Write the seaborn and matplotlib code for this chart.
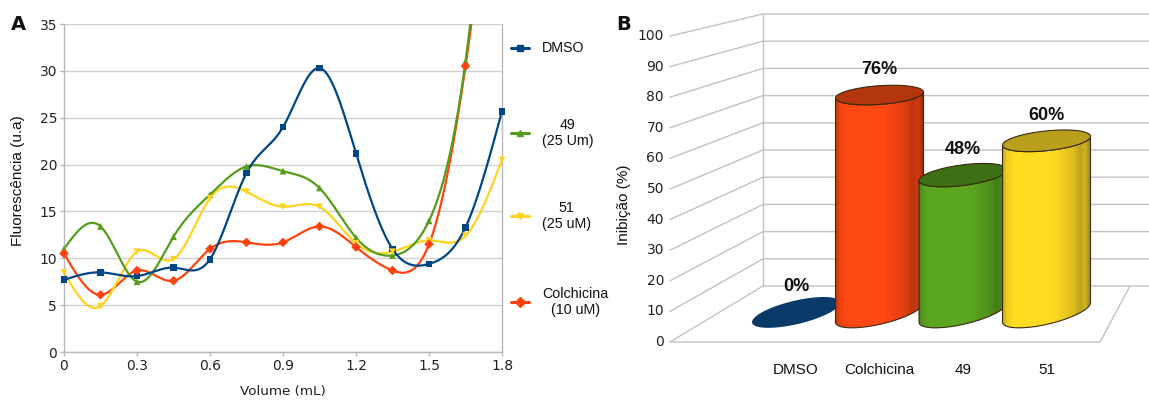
import numpy as np
import pandas as pd
import matplotlib
matplotlib.use("Agg")
import matplotlib.pyplot as plt
import seaborn as sns
from matplotlib.lines import Line2D
from matplotlib.patches import Polygon
from matplotlib.colors import to_rgb

# ---------------- data ----------------
volume_ml = [0, 0.15, 0.3, 0.45, 0.6, 0.75, 0.9, 1.05, 1.2, 1.35, 1.5, 1.65, 1.8]
dmso = [7.7, 8.5, 8.1, 9.0, 9.9, 19.1, 24.0, 30.3, 21.2, 11.0, 9.4, 13.3, 25.7]
cpd49 = [11.0, 13.4, 7.5, 12.3, 16.8, 19.8, 19.3, 17.5, 12.2, 10.3, 14.0, 31.0, 70.0]
cpd51 = [8.5, 4.9, 10.7, 9.9, 16.4, 17.1, 15.5, 15.5, 11.6, 10.7, 11.9, 12.4, 20.5]
colchicina = [10.5, 6.1, 8.7, 7.6, 11.0, 11.7, 11.7, 13.4, 11.2, 8.7, 11.5, 30.5, 62.0]

series_names = ["DMSO", "49\n(25 Um)", "51\n(25 uM)", "Colchicina\n(10 uM)"]
series_values = [dmso, cpd49, cpd51, colchicina]
series_colors = ["#004586", "#579d1c", "#ffd320", "#ff420e"]
series_markers = ["s", "^", "v", "D"]

groups = ["DMSO", "Colchicina", "49", "51"]
inhibition = [0, 76, 48, 60]
bar_colors = ["#0a3a68", "#ff4812", "#5ca720", "#ffdc22"]
top_colors = ["#0a3a68", "#b3360c", "#3d7014", "#b89f1c"]

W, H = 1149, 401
sns.set_theme(style="white")
plt.rcParams["font.family"] = ["DejaVu Sans"]

fig = plt.figure(figsize=(W / 100, H / 100), dpi=100)
fig.patch.set_facecolor("white")


def fx(px):
    return px / W


def fy(py):
    return 1 - py / H


def natural_spline(x, y, n=500):
    """Natural cubic spline through the measured points (smoothed line)."""
    x = np.asarray(x, float)
    y = np.asarray(y, float)
    h = np.diff(x)
    N = len(x)
    A = np.zeros((N, N))
    r = np.zeros(N)
    A[0, 0] = A[-1, -1] = 1
    for i in range(1, N - 1):
        A[i, i - 1] = h[i - 1]
        A[i, i] = 2 * (h[i - 1] + h[i])
        A[i, i + 1] = h[i]
        r[i] = 3 * ((y[i + 1] - y[i]) / h[i] - (y[i] - y[i - 1]) / h[i - 1])
    c = np.linalg.solve(A, r)
    b = (y[1:] - y[:-1]) / h - h * (2 * c[:-1] + c[1:]) / 3
    d = (c[1:] - c[:-1]) / (3 * h)
    xs = np.linspace(x[0], x[-1], n)
    idx = np.clip(np.searchsorted(x, xs, side="right") - 1, 0, N - 2)
    dx = xs - x[idx]
    ys = y[idx] + b[idx] * dx + c[idx] * dx ** 2 + d[idx] * dx ** 3
    return xs, ys


# ---------------- panel A: fluorescence curves ----------------
axA = fig.add_axes([fx(64), fy(352), fx(502 - 64), (352 - 24) / H])

curves, points = [], []
for name, vals in zip(series_names, series_values):
    xs, ys = natural_spline(volume_ml, vals)
    curves.append(pd.DataFrame({"volume": xs, "fluor": ys, "serie": name}))
    points.append(pd.DataFrame({"volume": volume_ml, "fluor": vals, "serie": name}))
curves = pd.concat(curves, ignore_index=True)
points = pd.concat(points, ignore_index=True)
points = points[points["fluor"] <= 35]

palette = dict(zip(series_names, series_colors))
markers = dict(zip(series_names, series_markers))
draw_order = series_names[::-1]

sns.lineplot(data=curves, x="volume", y="fluor", hue="serie", hue_order=draw_order,
             palette=palette, estimator=None, sort=False, legend=False,
             lw=1.6, ax=axA, zorder=2)
sns.scatterplot(data=points, x="volume", y="fluor", hue="serie", hue_order=draw_order,
                style="serie", style_order=draw_order, markers=markers,
                palette=palette, s=24, linewidth=0, legend=False, ax=axA,
                clip_on=False, zorder=3)

axA.set_xlim(0, 1.8)
axA.set_ylim(0, 35)
axA.set_xticks([0, 0.3, 0.6, 0.9, 1.2, 1.5, 1.8])
axA.set_xticklabels(["0", "0.3", "0.6", "0.9", "1.2", "1.5", "1.8"])
axA.set_yticks(range(0, 36, 5))
axA.yaxis.grid(True, color="#d0d0d0", lw=1)
axA.xaxis.grid(False)
axA.set_axisbelow(True)
for side in ["left", "bottom", "right"]:
    axA.spines[side].set_color("#b8b8b8")
    axA.spines[side].set_linewidth(1)
axA.spines["top"].set_visible(False)
axA.set_xlabel("")
axA.set_ylabel("")
axA.tick_params(axis="both", length=3, width=1, color="#b8b8b8", labelsize=10,
                labelcolor="#222222", left=True, bottom=True, pad=2)

fig.text(fx(18), fy(181), "Fluorescência (u.a)", rotation=90, ha="center", va="center",
         family="Liberation Sans", fontsize=11, color="#111111")
fig.text(fx(283), fy(392), "Volume (mL)", ha="center", va="center",
         fontsize=9.7, color="#222222")
fig.text(fx(11), fy(25), "A", ha="left", va="center", fontsize=14,
         fontweight="bold", color="#111111")

# legend drawn to the right of the plot
legend_rows = [48, 133, 216, 302]
for name, color, marker, ly in zip(series_names, series_colors, series_markers, legend_rows):
    fig.add_artist(Line2D([fx(511), fx(529)], [fy(ly), fy(ly)], color=color, lw=2.2))
    fig.add_artist(Line2D([fx(520)], [fy(ly)], marker=marker, color=color, ms=5, lw=0))
    fig.text(fx(542), fy(ly), name, ha="left", va="center", multialignment="center",
             family="Liberation Sans", fontsize=10.3, color="#111111", linespacing=1.15)

# ---------------- panel B: 3D-style cylinder bars ----------------
BAR_X0, BAR_DX = 796.0, 83.5     # horizontal position of category 0 and spacing
BAR_Y0, BAR_DY = 312.4, 2.86     # floor level and size of one percent at bar depth

axB = fig.add_axes([fx(630), 0, fx(W - 630), 1])
axB.axis("off")


def px_to_data(xp, yp):
    return ((np.asarray(xp, float) - BAR_X0) / BAR_DX,
            (BAR_Y0 - np.asarray(yp, float)) / BAR_DY)


# perspective frame: left wall, back wall and floor
FRONT_X, BACK_X, FLOOR_FRONT_RIGHT, FLOOR_BACK_RIGHT = 670, 763, 1100, 1130


def front_y(v):
    return 342 - 3.06 * v


def back_y(v):
    return 286 - 2.72 * v


grid_kw = dict(color="#c2c2c2", lw=1, zorder=0.5)
for v in range(0, 101, 10):
    gx, gy = px_to_data([FRONT_X, BACK_X, W], [front_y(v), back_y(v), back_y(v)])
    axB.plot(gx, gy, **grid_kw)
    tx, ty = px_to_data(664, front_y(v))
    axB.text(tx, ty, f"{v}", ha="right", va="center", fontsize=10, color="#222222")
gx, gy = px_to_data([BACK_X, BACK_X], [back_y(0), back_y(100)])
axB.plot(gx, gy, **grid_kw)
gx, gy = px_to_data([FRONT_X, FLOOR_FRONT_RIGHT, FLOOR_BACK_RIGHT],
                    [front_y(0), front_y(0), back_y(0)])
axB.plot(gx, gy, **grid_kw)

HALF_W = 44.0


def ellipse_pts(i, v, t):
    tilt = 0.22 - 0.002 * v
    minor = 12.0 - 0.035 * v
    ox = HALF_W * np.cos(t)
    oy = minor * np.sin(t) + tilt * HALF_W * np.cos(t)
    return i + ox / BAR_DX, v + oy / BAR_DY


prof_t = [0, 0.04, 0.12, 0.55, 0.68, 0.8, 0.88, 0.94, 1]
prof_f = [0.78, 0.93, 1.0, 1.0, 0.94, 0.86, 0.74, 0.82, 0.58]
shade = np.interp(np.linspace(0, 1, 200), prof_t, prof_f)
edge = "#3a2a12"

for i, (name, v, col, tcol) in enumerate(zip(groups, inhibition, bar_colors, top_colors)):
    z = 2 + i
    full_t = np.linspace(0, 2 * np.pi, 160)
    if v > 0:
        bx, by = ellipse_pts(i, 0, np.linspace(np.pi, 2 * np.pi, 80))
        tx_, ty_ = ellipse_pts(i, v, np.linspace(2 * np.pi, np.pi, 80))
        body = np.column_stack([np.r_[bx, tx_], np.r_[by, ty_]])
        patch = Polygon(body, closed=True, facecolor="none", edgecolor=edge,
                        lw=0.8, zorder=z + 0.1)
        axB.add_patch(patch)
        rgb = np.clip(np.array(to_rgb(col))[None, :] * shade[:, None], 0, 1)
        im = axB.imshow(rgb[None, :, :], extent=[i - HALF_W / BAR_DX, i + HALF_W / BAR_DX,
                                                 by.min() - 1, ty_.max() + 1],
                        aspect="auto", interpolation="bilinear", zorder=z)
        im.set_clip_path(patch)
        ex, ey = ellipse_pts(i, v, full_t)
        axB.add_patch(Polygon(np.column_stack([ex, ey]), closed=True, facecolor=tcol,
                              edgecolor=edge, lw=0.8, zorder=z + 0.2))
    else:
        ex, ey = ellipse_pts(i, v, full_t)
        axB.add_patch(Polygon(np.column_stack([ex, ey]), closed=True, facecolor=col,
                              edgecolor="none", zorder=z + 0.2))
    axB.text(i, v + 17 / BAR_DY, f"{v}%", ha="center", va="bottom", fontsize=13,
             fontweight="bold", family="Liberation Sans", color="#111111", zorder=10)
    axB.text(i, (BAR_Y0 - 370) / BAR_DY, name, ha="center", va="center",
             family="Liberation Sans", fontsize=11, color="#111111")

axB.set_xlim((630 - BAR_X0) / BAR_DX, (W - BAR_X0) / BAR_DX)
axB.set_ylim((BAR_Y0 - H) / BAR_DY, BAR_Y0 / BAR_DY)

fig.text(fx(624), fy(205), "Inibição (%)", rotation=90, ha="center", va="center",
         family="Liberation Sans", fontsize=11, color="#111111")
fig.text(fx(616), fy(25), "B", ha="left", va="center", fontsize=14,
         fontweight="bold", color="#111111")

fig.savefig("out.png", dpi=100, facecolor="white")
